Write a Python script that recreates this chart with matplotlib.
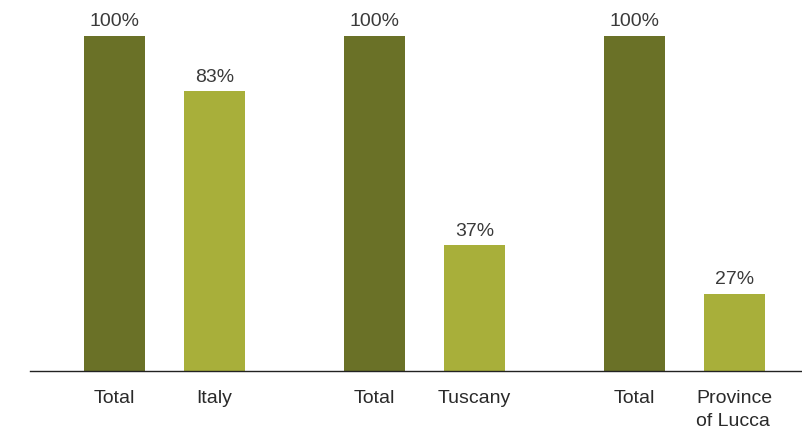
import matplotlib
matplotlib.use("Agg")
import matplotlib.pyplot as plt

categories = ["Total", "Italy", "Total", "Tuscany", "Total", "Province\nof Lucca"]
bar_heights = [100, 83.5, 100, 37.5, 100, 23]
value_labels = ["100%", "83%", "100%", "37%", "100%", "27%"]
positions = [0, 1, 2.6, 3.6, 5.2, 6.2]

dark = "#6a7127"
light = "#a8af3a"
colors = [dark, light, dark, light, dark, light]

plt.rcParams["font.family"] = ["Liberation Sans", "DejaVu Sans"]

fig = plt.figure(figsize=(8.02, 4.32), dpi=100)
ax = fig.add_axes([30 / 802, 61 / 432, 772 / 802, 371 / 432])

bars = ax.bar(positions, bar_heights, width=0.61, color=colors)
for b, lab in zip(bars, value_labels):
    ax.annotate(lab, (b.get_x() + b.get_width() / 2, b.get_height()),
                xytext=(0, 4), textcoords="offset points",
                ha="center", va="bottom", fontsize=14, color="#3a3a3a")

ax.set_xlim(-0.845, 6.875)
ax.set_ylim(0, 110.75)
ax.set_xticks(positions)
ax.set_xticklabels(categories, fontsize=14, color="#2a2a2a", linespacing=1.45)
for t in ax.get_xticklabels():
    if "\n" in t.get_text():
        t.set_multialignment("left")
ax.tick_params(axis="x", length=0, pad=14)
ax.set_yticks([])
for s in ["top", "right", "left"]:
    ax.spines[s].set_visible(False)
ax.spines["bottom"].set_color("#222222")
ax.spines["bottom"].set_linewidth(1.0)

fig.savefig("out.png", dpi=100)
